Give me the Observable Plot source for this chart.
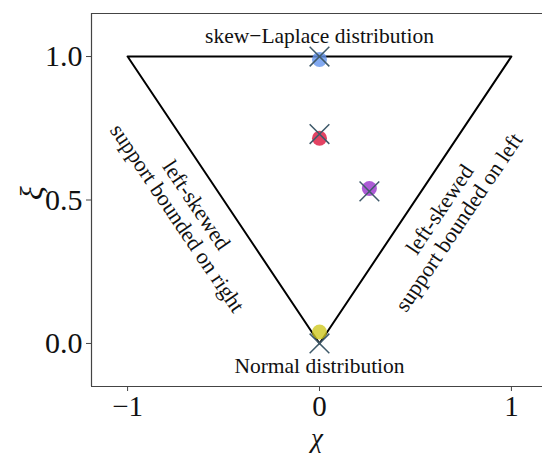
<!DOCTYPE html>
<html><head><meta charset="utf-8">
<script src="https://cdn.jsdelivr.net/npm/d3@7"></script>
<script src="https://cdn.jsdelivr.net/npm/@observablehq/plot@0.6"></script>
<style>body{margin:0;background:#fff}</style>
</head><body><div id="chart"></div>
<script>
const triangleX = [-1, 1, 0, -1];
const triangleY = [1, 1, 0, 1];
const estX = [0, 0, 0.26, 0];
const estY = [0.99, 0.715, 0.54, 0.04];
const trueX = [0, 0, 0.26, 0];
const trueY = [1.0, 0.73, 0.53, 0.0];
const pointColors = ["#6495ed", "#dc143c", "#9932cc", "#cfc820"];
const annText = ["skew\u2212Laplace distribution", "Normal distribution"];
const annX = [0, 0];
const annY = [1.07, -0.08];
const sideText = ["left-skewed\nsupport bounded on right", "left-skewed\nsupport bounded on left"];
const sideX = [-0.69, 0.675];
const sideY = [0.46, 0.445];
const sideRotate = [56, -56];
const xTicks = [-1, 0, 1];
const yTicks = [0, 0.5, 1];
const xDomain = [-1.188, 1.162];
const yDomain = [-0.15, 1.15];

const serif = "Liberation Serif";
const idx = d3.range(estX.length);
const tri = d3.range(triangleX.length);
const ann = d3.range(annText.length);
const side = d3.range(sideText.length);

const chart = Plot.plot({
  width: 542,
  height: 459,
  marginLeft: 91,
  marginRight: 0,
  marginTop: 13,
  marginBottom: 73,
  style: {fontFamily: serif, background: "#fff", color: "#000"},
  x: {domain: xDomain},
  y: {domain: yDomain},
  marks: [
    Plot.ruleX([xDomain[0]], {stroke: "#444", strokeWidth: 1.2}),
    Plot.ruleY(yDomain, {stroke: "#444", strokeWidth: 1.2}),
    Plot.line(tri, {x: i => triangleX[i], y: i => triangleY[i], stroke: "#000", strokeWidth: 2}),
    Plot.dot(idx, {x: i => estX[i], y: i => estY[i], r: 7.5, fill: i => pointColors[i], fillOpacity: 0.8, stroke: "none"}),
    Plot.dot(idx, {x: i => trueX[i], y: i => trueY[i], symbol: "times", r: 9, stroke: "#3f5a6a", strokeWidth: 1.5}),
    Plot.text(ann, {x: i => annX[i], y: i => annY[i], text: i => annText[i], fontSize: 21.5, fontFamily: serif, fill: "#111"}),
    Plot.text(side, {x: i => sideX[i], y: i => sideY[i], text: i => sideText[i], rotate: i => sideRotate[i], fontSize: 22, fontFamily: serif, lineHeight: 1.05, lineAnchor: "middle", fill: "#111"}),
    Plot.axisX({ticks: xTicks, tickSize: 5, tickPadding: 4, fontSize: 29, fontFamily: serif, label: null, tickFormat: d3.format("d"), stroke: "#444", fill: "#111"}),
    Plot.axisY({ticks: yTicks, tickSize: 5, tickPadding: 4, fontSize: 30, fontFamily: serif, label: null, tickFormat: d3.format(".1f"), stroke: "#444", fill: "#111"}),
    Plot.text(["\u03c7"], {frameAnchor: "bottom", dy: 60, fontSize: 27, fontFamily: serif, fontStyle: "italic", fill: "#111"}),
    Plot.text(["\u03be"], {frameAnchor: "left", dx: -60, rotate: -90, fontSize: 32, fontFamily: serif, fontStyle: "italic", fill: "#111"})
  ]
});
document.getElementById("chart").append(chart);
</script>
</body></html>
